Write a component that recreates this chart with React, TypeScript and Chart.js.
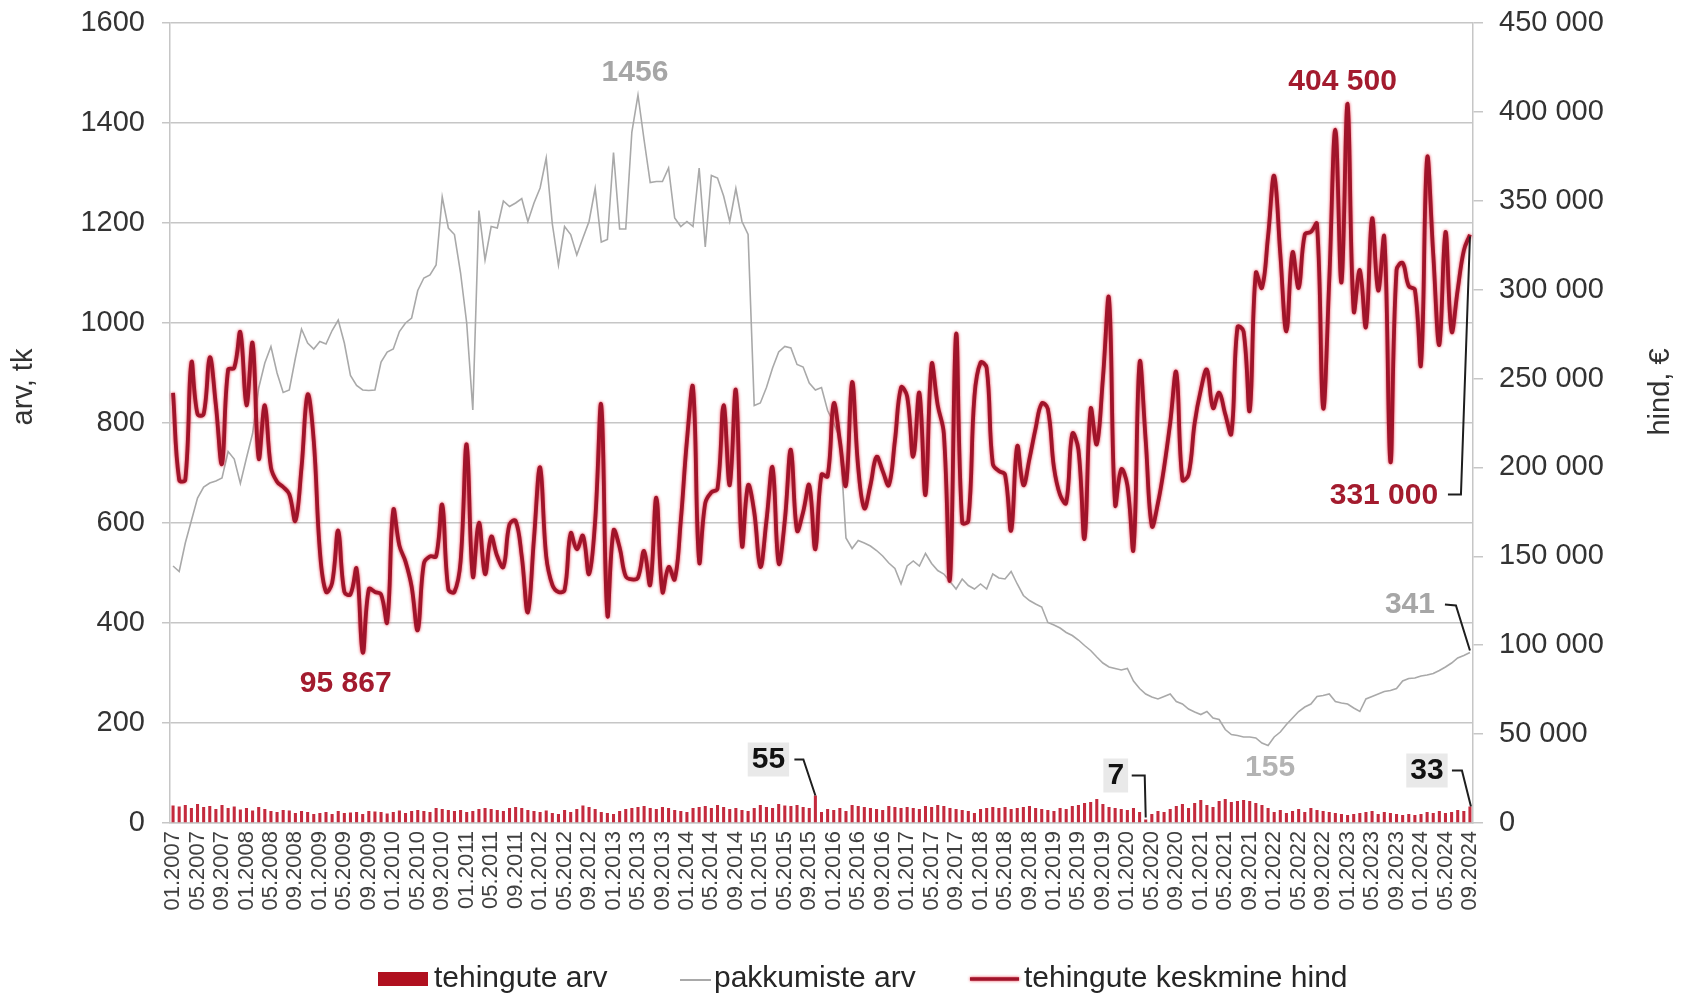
import React, { useEffect, useRef } from 'react';
import { Chart, registerables } from 'chart.js';

Chart.register(...registerables);

const FONT = '"Liberation Sans", Arial, Helvetica, sans-serif';

// ---- categories (monthly, 01.2007 … 09.2024) ----
const startYear = 2007;
const monthCount = 213;
const categories: string[] = Array.from({ length: monthCount }, (_, i) => {
  const m = (i % 12) + 1;
  const y = startYear + Math.floor(i / 12);
  return `${String(m).padStart(2, '0')}.${y}`;
});

// ---- tick values ----
const leftTicks = [0, 200, 400, 600, 800, 1000, 1200, 1400, 1600];
const rightTicks = [0, 50000, 100000, 150000, 200000, 250000, 300000, 350000, 400000, 450000];

// ---- series: tehingute keskmine hind (€) ----
const avgPrice: number[] = [
  242000, 193000, 193000, 259000, 230000, 230000, 262000, 235000, 202000, 255000, 256000, 276000,
  235000, 270000, 205000, 235000, 200000, 192000, 189000, 185000, 170000, 200000, 241000, 215000,
  153000, 130000, 135000, 164500, 130000, 128600, 143000, 95867, 131500, 130000, 128600, 113000,
  176000, 156000, 147000, 133000, 108500, 146000, 150000, 150000, 179000, 131500, 130000, 147000,
  213000, 138700, 169000, 140000, 161000, 150000, 144000, 168000, 170000, 150000, 118500, 160000,
  200000, 150000, 134000, 130000, 131000, 163000, 154000, 161600, 140000, 170000, 235000, 117000,
  164500, 155000, 138700, 137000, 138000, 153000, 134000, 183000, 130000, 144000, 137000, 170000,
  215000, 245000, 147000, 180000, 186000, 188000, 235000, 190000, 243500, 156000, 190000, 175000,
  144000, 170000, 200000, 146000, 170000, 210000, 164500, 175000, 190000, 154000, 196000, 195000,
  236000, 215000, 190000, 248000, 200000, 177000, 190000, 206000, 198000, 190000, 215000, 245000,
  240000, 206000, 242000, 184600, 258000, 235000, 219000, 137000, 275000, 169000, 170000, 240000,
  259000, 256000, 202000, 198000, 196000, 164500, 212000, 190000, 205000, 222000, 236000, 233000,
  200000, 184600, 180000, 219000, 210000, 160000, 233000, 213000, 250000, 295000, 179000, 199000,
  190000, 154000, 259000, 215000, 167000, 180000, 200000, 225000, 253500, 193000, 196000, 225000,
  243500, 255000, 233400, 242000, 230000, 219000, 279000, 276500, 232000, 309500, 301000, 330000,
  364000, 320000, 276500, 321000, 301000, 331000, 332500, 337000, 233400, 305000, 390000, 304000,
  404500, 288000, 311000, 279000, 340000, 299500, 329500, 203000, 311000, 315000, 302000, 300000,
  258000, 374000, 320000, 269000, 332500, 276500, 300000, 322000, 331000,
];

// ---- series: pakkumiste arv ----
const offers: number[] = [
  514, 503, 560, 605, 650, 672, 680, 684, 690, 743, 728, 679,
  730, 779, 870, 920, 953, 900, 861, 866, 930, 988, 960, 948,
  963, 958, 985, 1006, 960, 895, 875, 866, 865, 866, 922, 942,
  948, 983, 1000, 1010, 1065, 1090, 1096, 1116, 1252, 1190, 1177, 1100,
  1000, 826, 1225, 1126, 1193, 1190, 1244, 1233, 1240, 1249, 1203, 1240,
  1270, 1330, 1198, 1116, 1193, 1177, 1136, 1170, 1203, 1269, 1162, 1167,
  1341, 1188, 1188, 1382, 1456, 1366, 1281, 1283, 1283, 1310, 1210, 1193,
  1203, 1193, 1310, 1152, 1295, 1290, 1254, 1203, 1269, 1203, 1177, 835,
  840, 871, 910, 942, 953, 950, 917, 912, 880, 866, 871, 825,
  800, 769, 570, 549, 565, 560, 554, 545, 534, 520, 509, 478,
  514, 524, 514, 539, 519, 505, 498, 483, 468, 488, 475, 468,
  478, 468, 498, 490, 488, 503, 478, 455, 445, 438, 432, 401,
  396, 390, 381, 375, 366, 355, 345, 332, 320, 312, 309, 306,
  309, 284, 269, 258, 252, 248, 253, 258, 243, 238, 228, 222,
  217, 223, 210, 207, 187, 177, 175, 172, 172, 170, 160, 155,
  172, 182, 197, 210, 223, 232, 238, 253, 255, 258, 243, 240,
  238, 230, 223, 248, 253, 258, 263, 265, 269, 284, 289, 290,
  294, 296, 299, 305, 312, 320, 330, 335, 341,
];

// ---- series: tehingute arv ----
const deals: number[] = [
  35, 33, 36, 30, 38, 32, 34, 28, 36, 30, 33, 27,
  30, 25, 32, 28, 24, 22, 26, 25, 20, 24, 22, 18,
  20, 22, 18, 24, 20, 21, 22, 18, 24, 23, 22, 19,
  22, 25, 20, 24, 26, 24, 22, 30, 28, 26, 24, 26,
  22, 24, 28, 30, 28, 26, 24, 30, 32, 30, 26, 24,
  22, 25, 20, 18, 26, 22, 28, 35, 32, 28, 22, 20,
  18, 24, 28, 30, 32, 34, 30, 28, 32, 30, 26, 24,
  22, 30, 32, 34, 30, 36, 32, 28, 30, 26, 24, 30,
  36, 32, 30, 38, 35, 34, 36, 32, 30, 55, 22, 28,
  26, 30, 24, 36, 34, 32, 30, 28, 26, 34, 32, 30,
  32, 30, 28, 34, 32, 36, 34, 30, 28, 26, 24, 20,
  28, 30, 32, 30, 32, 28, 30, 32, 34, 30, 28, 26,
  24, 30, 28, 34, 36, 40, 42, 48, 38, 32, 30, 28,
  26, 30, 22, 7, 18, 24, 22, 28, 34, 38, 30, 40,
  46, 36, 32, 44, 48, 42, 44, 46, 44, 40, 36, 30,
  22, 26, 20, 24, 28, 22, 30, 26, 24, 22, 20, 18,
  16, 18, 20, 22, 24, 18, 22, 20, 18, 16, 18, 16,
  18, 22, 20, 24, 20, 22, 26, 24, 33,
];

const seriesLabels = ['tehingute keskmine hind', 'pakkumiste arv', 'tehingute arv'];
const axisTitles = ['arv, tk', 'hind, €'];

const RED = '#a0142a';
const RED_TEXT = '#a31b2e';
const GRAY = '#a9a9a9';
const BAR = '#c42a3d';
const GRID = '#c6c6c6';

// thousands separated by a space (prices); counts are written plainly
const fmt = (v: number) => String(Math.round(v)).replace(/\B(?=(\d{3})+(?!\d))/g, ' ');
const plain = (v: number) => String(Math.round(v));

const argMax = (a: number[]) => a.indexOf(Math.max(...a));
const argMin = (a: number[]) => a.indexOf(Math.min(...a));

function drawText(ctx: CanvasRenderingContext2D, txt: string, x: number, y: number, color: string, size: number, bold = false, align: CanvasTextAlign = 'center') {
  ctx.font = `${bold ? 'bold ' : ''}${size}px ${FONT}`;
  ctx.fillStyle = color;
  ctx.textAlign = align;
  ctx.textBaseline = 'middle';
  ctx.fillText(txt, x, y);
}

function polyline(ctx: CanvasRenderingContext2D, pts: number[][], color = '#1e1e1e', w = 2) {
  ctx.beginPath();
  ctx.strokeStyle = color;
  ctx.lineWidth = w;
  pts.forEach((p, k) => (k === 0 ? ctx.moveTo(p[0], p[1]) : ctx.lineTo(p[0], p[1])));
  ctx.stroke();
}

const glowPlugin = {
  id: 'glow',
  beforeDatasetDraw(chart: any, args: any) {
    if (args.index === 0) {
      const c = chart.ctx;
      c.save();
      c.shadowColor = 'rgba(230, 35, 55, 0.9)';
      c.shadowBlur = 3;
    }
  },
  afterDatasetDraw(chart: any, args: any) {
    if (args.index === 0) chart.ctx.restore();
  },
};

const decorPlugin = {
  id: 'decor',
  afterDraw(chart: any) {
    const { ctx, scales } = chart;
    const x = scales.x, y = scales.y, y1 = scales.y1;
    ctx.save();

    // axis titles
    ctx.save();
    ctx.translate(24, 387);
    ctx.rotate(-Math.PI / 2);
    drawText(ctx, axisTitles[0], 0, 0, '#333333', 29);
    ctx.restore();
    ctx.save();
    ctx.translate(1661, 392);
    ctx.rotate(-Math.PI / 2);
    drawText(ctx, axisTitles[1], 0, 0, '#333333', 29);
    ctx.restore();

    // offers max / min / last
    const iMaxO = argMax(offers);
    let px = x.getPixelForValue(iMaxO), py = y.getPixelForValue(offers[iMaxO]);
    drawText(ctx, plain(offers[iMaxO]), px - 3, py - 22, '#a6a6a6', 30, true);

    const iMinO = argMin(offers);
    px = x.getPixelForValue(iMinO); py = y.getPixelForValue(offers[iMinO]);
    drawText(ctx, plain(offers[iMinO]), px + 2, py + 22, '#b3b3b3', 30, true);

    const last = monthCount - 1;
    px = x.getPixelForValue(last); py = y.getPixelForValue(offers[last]);
    drawText(ctx, plain(offers[last]), px - 60, py - 48, '#a6a6a6', 30, true);
    polyline(ctx, [[px - 25, py - 48], [px - 14, py - 47], [px, py - 2]]);

    // price max / min / last
    const iMaxP = argMax(avgPrice);
    px = x.getPixelForValue(iMaxP); py = y1.getPixelForValue(avgPrice[iMaxP]);
    drawText(ctx, fmt(avgPrice[iMaxP]), px - 5, py - 22, RED_TEXT, 30, true);

    const iMinP = argMin(avgPrice);
    px = x.getPixelForValue(iMinP); py = y1.getPixelForValue(avgPrice[iMinP]);
    drawText(ctx, fmt(avgPrice[iMinP]), px - 17, py + 31, RED_TEXT, 30, true);

    px = x.getPixelForValue(last); py = y1.getPixelForValue(avgPrice[last]);
    drawText(ctx, fmt(avgPrice[last]), px - 86, py + 261, RED_TEXT, 30, true);
    polyline(ctx, [[px - 22, py + 260], [px - 9, py + 260], [px, py + 2]]);

    // deals max / min / last (boxed labels)
    const boxed = (i: number, dx: number, dy: number, lead: number[][]) => {
      const bx = x.getPixelForValue(i), by = y.getPixelForValue(deals[i]);
      const t = plain(deals[i]);
      ctx.font = `bold 30px ${FONT}`;
      const w = ctx.measureText(t).width + 8;
      ctx.fillStyle = 'rgba(232,232,232,0.95)';
      ctx.fillRect(bx + dx - w / 2, by + dy - 17, w, 34);
      drawText(ctx, t, bx + dx, by + dy, '#111111', 30, true);
      polyline(ctx, lead.map((p) => [bx + p[0], by + p[1]]));
    };
    const iMaxD = argMax(deals);
    boxed(iMaxD, -47, -36, [[-21, -36], [-12, -36], [0, 0]]);
    const iMinD = argMin(deals);
    boxed(iMinD, -30, -44, [[-14, -44], [-1, -44], [0, -2]]);
    boxed(last, -43, -36, [[-18, -36], [-8, -36], [1, 0]]);

    // legend
    const ds = chart.data.datasets;
    const ly = 979;
    ctx.fillStyle = '#b0101f';
    ctx.fillRect(378, 972, 50, 14);
    drawText(ctx, ds[2].label, 434, ly, '#262626', 30, false, 'left');
    polyline(ctx, [[680, ly + 1], [711, ly + 1]], ds[1].borderColor, 2);
    drawText(ctx, ds[1].label, 714, ly, '#262626', 30, false, 'left');
    ctx.save();
    ctx.shadowColor = 'rgba(230, 35, 55, 0.9)';
    ctx.shadowBlur = 3;
    polyline(ctx, [[970, ly], [1019, ly]], ds[0].borderColor, 3.5);
    ctx.restore();
    drawText(ctx, ds[0].label, 1024, ly, '#262626', 30, false, 'left');

    ctx.restore();
  },
};

export default function App() {
  const canvasRef = useRef<HTMLCanvasElement | null>(null);

  useEffect(() => {
    document.body.style.margin = '0';
    document.body.style.background = '#ffffff';
    const canvas = canvasRef.current;
    if (!canvas) return;

    const chart = new Chart(canvas, {
      type: 'bar',
      data: {
        labels: categories,
        datasets: [
          {
            type: 'line',
            label: seriesLabels[0],
            data: avgPrice,
            yAxisID: 'y1',
            borderColor: RED,
            borderWidth: 3.8,
            pointRadius: 0,
            tension: 0.4,
            fill: false,
            order: 1,
          } as any,
          {
            type: 'line',
            label: seriesLabels[1],
            data: offers,
            yAxisID: 'y',
            borderColor: GRAY,
            borderWidth: 1.6,
            pointRadius: 0,
            tension: 0,
            fill: false,
            order: 2,
          } as any,
          {
            type: 'bar',
            label: seriesLabels[2],
            data: deals,
            yAxisID: 'y',
            backgroundColor: BAR,
            barPercentage: 0.5,
            categoryPercentage: 1,
            order: 3,
          } as any,
        ],
      },
      options: {
        animation: false,
        responsive: true,
        maintainAspectRatio: false,
        layout: { padding: { top: 23, left: 0, right: 0, bottom: 0 } },
        plugins: {
          legend: { display: false },
          tooltip: { enabled: false },
        },
        scales: {
          x: {
            type: 'category',
            offset: true,
            grid: { display: false, drawTicks: false },
            border: { display: true, color: GRID, width: 1.5 },
            ticks: {
              autoSkip: false,
              maxRotation: 90,
              minRotation: 90,
              padding: 8,
              color: '#404040',
              font: { family: FONT, size: 22 },
              callback: (_v: any, i: number) => (i % 4 === 0 ? categories[i] : ''),
            },
            afterFit: (s: any) => {
              s.height = 173;
            },
          },
          y: {
            position: 'left',
            min: leftTicks[0],
            max: leftTicks[leftTicks.length - 1],
            afterBuildTicks: (s: any) => {
              s.ticks = leftTicks.map((v) => ({ value: v }));
            },
            ticks: {
              padding: 17,
              color: '#333333',
              font: { family: FONT, size: 29 },
              callback: (v: any) => String(v),
            },
            grid: { color: GRID, lineWidth: 1.5, tickLength: 8 },
            border: { display: true, color: GRID, width: 1.5 },
            afterFit: (s: any) => {
              s.width = 170;
              s.paddingTop = 0;
              s.paddingBottom = 0;
            },
          },
          y1: {
            position: 'right',
            min: rightTicks[0],
            max: rightTicks[rightTicks.length - 1],
            afterBuildTicks: (s: any) => {
              s.ticks = rightTicks.map((v) => ({ value: v }));
            },
            ticks: {
              padding: 16,
              color: '#333333',
              font: { family: FONT, size: 29 },
              callback: (v: any) => fmt(Number(v)),
            },
            grid: { drawOnChartArea: false, color: GRID, lineWidth: 1.5, tickLength: 10 },
            border: { display: true, color: GRID, width: 1.5 },
            afterFit: (s: any) => {
              s.width = 213;
              s.paddingTop = 0;
              s.paddingBottom = 0;
            },
          },
        },
      } as any,
      plugins: [glowPlugin, decorPlugin],
    });

    return () => chart.destroy();
  }, []);

  return (
    <div style={{ position: 'relative', width: 1686, height: 996, background: '#ffffff' }}>
      <canvas ref={canvasRef} />
    </div>
  );
}
